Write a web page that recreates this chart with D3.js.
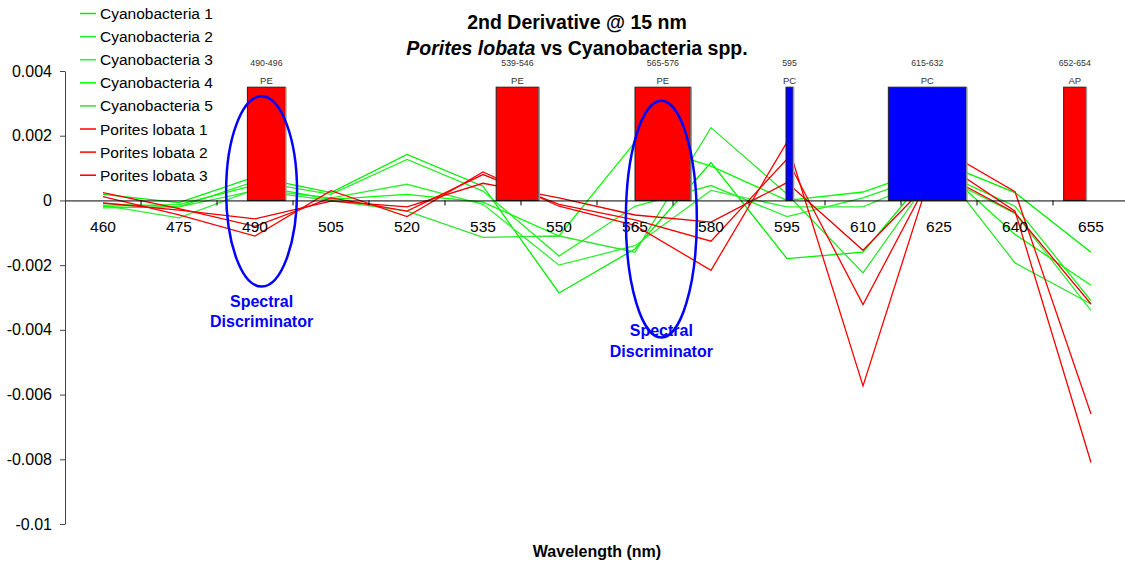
<!DOCTYPE html>
<html><head><meta charset="utf-8">
<script src="https://cdn.jsdelivr.net/npm/d3@7"></script>
<style>
body{margin:0;background:#fff;}
svg{font-family:Arial,"Liberation Sans",sans-serif;}
</style>
</head><body>
<svg id="c" width="1125" height="563"></svg>
<script>
// ---------- data ----------
const categories = [460,475,490,505,520,535,550,565,580,595,610,625,640,655];
const seriesNames = ["Cyanobacteria 1","Cyanobacteria 2","Cyanobacteria 3","Cyanobacteria 4","Cyanobacteria 5","Porites lobata 1","Porites lobata 2","Porites lobata 3"];
const cyano1 = [0.00019,-0.00007,0.00073,0.00024,0.00142,0.00044,-0.00286,-0.0015,0.00117,-0.0018,-0.0016,0.0012,0.00024,-0.0016];
const cyano2 = [-0.0001,-0.0002,0.00059,0.00019,0.00127,0.00029,-0.00172,-0.00018,0.00046,-0.0005,0.00008,0.0009,-0.00018,-0.0031];
const cyano3 = [-0.00015,-0.00054,0.00034,0.00008,0.0005,-0.00012,-0.002,-0.0014,0.00031,-0.0002,-0.0002,0.00079,-0.0004,-0.0034];
const cyano4 = [-0.00018,-0.00013,0.00047,0.00003,0.00019,-0.00005,-0.0011,0.0018,0.00106,0.0,0.00026,0.00108,-0.00105,-0.00262];
const cyano5 = [-0.00023,-0.0002,0.0003,0.0,-0.00033,-0.00114,-0.0011,-0.0016,0.00225,0.0002,-0.00224,0.00108,-0.00193,-0.0032];
const porites1 = [0.00012,-0.00045,-0.0011,0.0003,-0.0005,0.00088,-0.00018,-0.00077,-0.00216,0.0018,-0.00573,0.00164,0.00027,-0.0066];
const porites2 = [0.00024,-0.00025,-0.0008,0.00008,-0.00033,0.0008,-0.00012,-0.0006,-0.00126,0.00128,-0.00322,0.00124,-0.00033,-0.0081];
const porites3 = [-0.00008,-0.0003,-0.00057,-0.00002,-0.0002,0.00053,0.00008,-0.00045,-0.00067,0.00055,-0.00154,0.00087,-0.00038,-0.0032];
const seriesValues = [cyano1,cyano2,cyano3,cyano4,cyano5,porites1,porites2,porites3];
const seriesColors = ["#00ee00","#22f022","#33ee33","#00ff00","#2ee62e","#ff0000","#f80000","#e80000"];

const yTicks = [0.004,0.002,0,-0.002,-0.004,-0.006,-0.008,-0.01];
const yTickLabels = ["0.004","0.002","0","-0.002","-0.004","-0.006","-0.008","-0.01"];

// pigment absorption bands (nm)
const bandLabels   = ["490-496","539-546","565-576","595","615-632","652-654"];
const bandPigments = ["PE","PE","PE","PC","PC","AP"];
const bandStart    = [488.5,537.6,565,594.8,615,649.6];
const bandEnd      = [496,546,576,596.2,630.4,654];
const bandValue    = 0.0035;
const pigmentColor = {PE:"#ff0000", PC:"#0000ff", AP:"#ff0000"};

// spectral discriminator annotations (nm, value)
const discCenterNm  = [491.3,570.2];
const discCenterVal = [0.00028,-0.00058];
const discRadiusNm  = [7.0,7.0];
const discRadiusVal = [0.00294,0.00366];
const discLabelVal  = [-0.00326,-0.00416];

// ---------- chart ----------
const svg = d3.select("#c");
const FONT = "Arial,'Liberation Sans',sans-serif";
const x = d3.scaleBand().domain(categories).range([65,1129]).paddingInner(0).paddingOuter(0);
const bw = x.bandwidth();
const xNm = d3.scaleLinear()
  .domain([categories[0], categories[categories.length-1]])
  .range([x(categories[0])+bw/2, x(categories[categories.length-1])+bw/2]);
const y = d3.scaleLinear().domain([-0.01,0.004]).range([524,71]);

// lines
const line = d3.line().x((d,i)=>x(categories[i])+bw/2).y(d=>y(d));
svg.append("g").selectAll("path").data(seriesValues).join("path")
  .attr("d", d=>line(d)).attr("fill","none")
  .attr("stroke",(d,i)=>seriesColors[i]).attr("stroke-width",1.3)
  .attr("stroke-linejoin","miter");

// bars
const bars = svg.append("g");
bandLabels.forEach((lab,i)=>{
  const x0 = xNm(bandStart[i]), x1 = xNm(bandEnd[i]);
  bars.append("rect").attr("x",x0).attr("y",y(bandValue))
    .attr("width",x1-x0).attr("height",y(0)-y(bandValue))
    .attr("fill",pigmentColor[bandPigments[i]]).attr("stroke","#222").attr("stroke-width",1);
  bars.append("line").attr("x1",x1+0.5).attr("x2",x1+0.5).attr("y1",y(bandValue)).attr("y2",y(0))
    .attr("stroke","#999").attr("stroke-width",1.5);
  const cx = (x0+x1)/2;
  bars.append("text").attr("x",cx).attr("y",y(bandValue)-21).attr("text-anchor","middle")
    .attr("font-size",8.8).attr("fill","#333").text(lab);
  bars.append("text").attr("x",cx).attr("y",y(bandValue)-3).attr("text-anchor","middle")
    .attr("font-size",9.5).attr("fill","#333").text(bandPigments[i]);
});

// axes
const yAxis = d3.axisLeft(y).tickValues(yTicks).tickFormat((d,i)=>yTickLabels[i]).tickSize(5).tickSizeOuter(0).tickPadding(8);
const gy = svg.append("g").attr("transform","translate(65,0)").call(yAxis);
gy.selectAll("text").attr("font-size",16).attr("fill","#000").attr("font-family",FONT);
gy.select(".domain").attr("stroke","#444");
gy.selectAll(".tick line").attr("stroke","#444");

const xAxis = d3.axisBottom(x).tickSize(0).tickSizeOuter(0).tickPadding(20.5);
const gx = svg.append("g").attr("transform",`translate(0,${y(0)})`).call(xAxis);
gx.selectAll("text").attr("font-size",15.5).attr("fill","#000").attr("font-family",FONT);
gx.select(".domain").attr("stroke","#000");
gx.selectAll(".bnd").data(categories.slice(1)).join("line").attr("class","bnd")
  .attr("x1",d=>x(d)).attr("x2",d=>x(d)).attr("y1",0).attr("y2",5).attr("stroke","#000");

// ellipses + labels
const ann = svg.append("g");
discCenterNm.forEach((c,i)=>{
  const rx = xNm(c+discRadiusNm[i]) - xNm(c);
  const ry = y(discCenterVal[i]-discRadiusVal[i]) - y(discCenterVal[i]);
  ann.append("ellipse").attr("cx",xNm(c)).attr("cy",y(discCenterVal[i]))
    .attr("rx",rx).attr("ry",ry).attr("fill","none").attr("stroke","#0000ff").attr("stroke-width",2.5);
  const t = ann.append("text").attr("x",xNm(c)).attr("y",y(discLabelVal[i])+1).attr("text-anchor","middle")
    .attr("font-size",16).attr("font-weight","bold").attr("fill","#0000ff");
  t.append("tspan").attr("x",xNm(c)).text("Spectral");
  t.append("tspan").attr("x",xNm(c)).attr("dy",20.5).text("Discriminator");
});

// legend
const lg = svg.append("g").attr("transform","translate(80,13.5)");
seriesNames.forEach((n,i)=>{
  const r = lg.append("g").attr("transform",`translate(0,${i*23.1})`);
  r.append("line").attr("x1",0).attr("x2",16).attr("y1",0).attr("y2",0).attr("stroke",seriesColors[i]).attr("stroke-width",1.5);
  r.append("text").attr("x",20).attr("y",5.5).attr("font-size",15.5).attr("fill","#000").text(n);
});

// titles
svg.append("text").attr("x",577).attr("y",29).attr("text-anchor","middle")
  .attr("font-size",19.5).attr("font-weight","bold").text("2nd Derivative @ 15 nm");
const t2 = svg.append("text").attr("x",577).attr("y",55).attr("text-anchor","middle")
  .attr("font-size",19.5).attr("font-weight","bold");
t2.append("tspan").attr("font-style","italic").text("Porites lobata");
t2.append("tspan").text(" vs Cyanobacteria spp.");
svg.append("text").attr("x",597).attr("y",557).attr("text-anchor","middle")
  .attr("font-size",16).attr("font-weight","bold").text("Wavelength (nm)");
</script>
</body></html>
